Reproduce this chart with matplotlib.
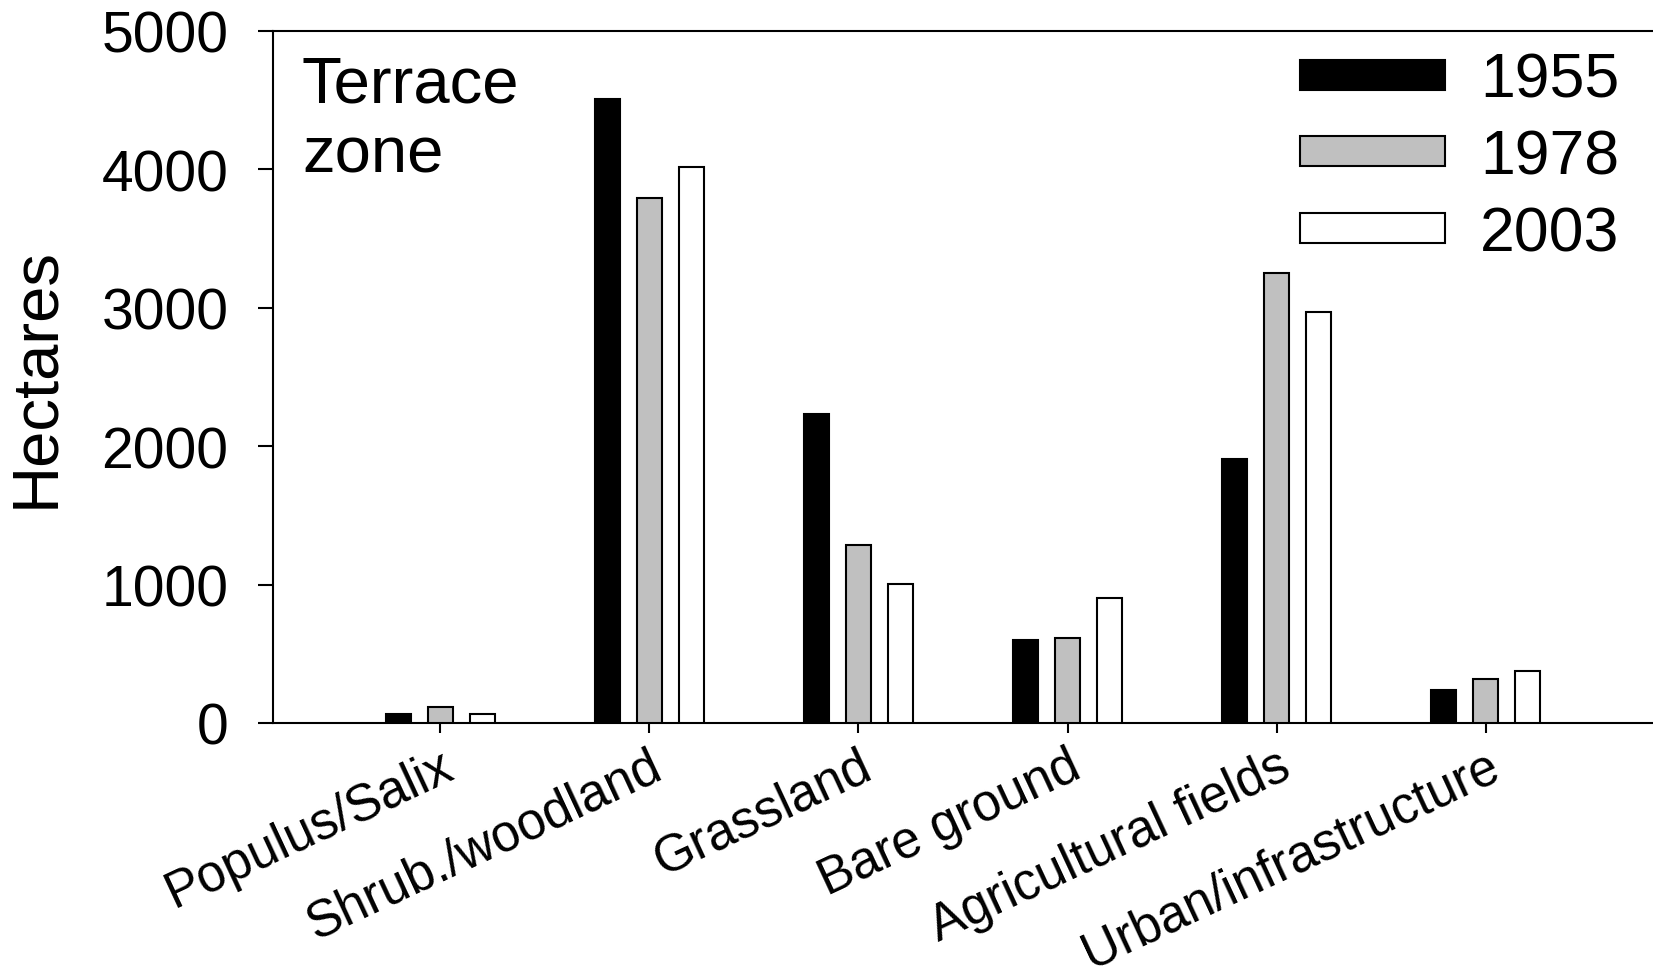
import numpy as np
import matplotlib
matplotlib.use("Agg")
import matplotlib.pyplot as plt

plt.rcParams['font.family'] = ['Liberation Sans', 'DejaVu Sans']

# land cover classes and areas (hectares), terrace zone
categories = ['Populus/Salix', 'Shrub./woodland', 'Grassland', 'Bare ground',
              'Agricultural fields', 'Urban/infrastructure']
years = ['1955', '1978', '2003']
ha_1955 = [62, 4510, 2230, 600, 1910, 237]
ha_1978 = [115, 3795, 1285, 617, 3250, 320]
ha_2003 = [65, 4020, 1003, 900, 2970, 375]
yticks = [0, 1000, 2000, 3000, 4000, 5000]

colors = ['black', '#c0c0c0', 'white']
W, H = 1653, 970

fig = plt.figure(figsize=(W / 100, H / 100), dpi=100)
ax = fig.add_axes([273 / W, 1 - 724 / H, 1 - 273 / W, (724 - 32) / H])

x = np.arange(len(categories))
width = 0.12
for i, (vals, lab) in enumerate(zip([ha_1955, ha_1978, ha_2003], years)):
    ax.bar(x + (i - 1) * 0.2, vals, width, color=colors[i], edgecolor='black',
           linewidth=1.5, label=lab, zorder=3)

ax.set_xlim(-0.8, 5.8)
ax.set_ylim(0, 5000)
ax.set_yticks(yticks)
ax.set_yticklabels([str(v) for v in yticks], fontsize=41)
ax.set_xticks(x)
ax.set_xticklabels(categories, fontsize=37, rotation=25, ha='right',
                   rotation_mode='anchor')
ax.tick_params(axis='y', direction='out', length=11, width=1.5, pad=21)
ax.tick_params(axis='x', direction='out', length=7, width=1.5, pad=6)

for s in ['left', 'bottom', 'top']:
    ax.spines[s].set_linewidth(1.5)
ax.spines['right'].set_visible(False)

ax.set_ylabel('Hectares', fontsize=47)
ax.yaxis.set_label_coords(-0.150, 0.5)

ax.text(0.021, 0.966, 'Terrace\nzone', transform=ax.transAxes, fontsize=47,
        ha='left', va='top', linespacing=1.22)

ax.legend(loc='upper left', bbox_to_anchor=(1300 / W, 1 - 52 / H),
          bbox_transform=fig.transFigure, frameon=False, fontsize=45,
          handlelength=2.32, handleheight=0.36, handletextpad=0.56,
          labelspacing=0.28, borderpad=0, borderaxespad=0)

fig.savefig('out.png', dpi=100)
